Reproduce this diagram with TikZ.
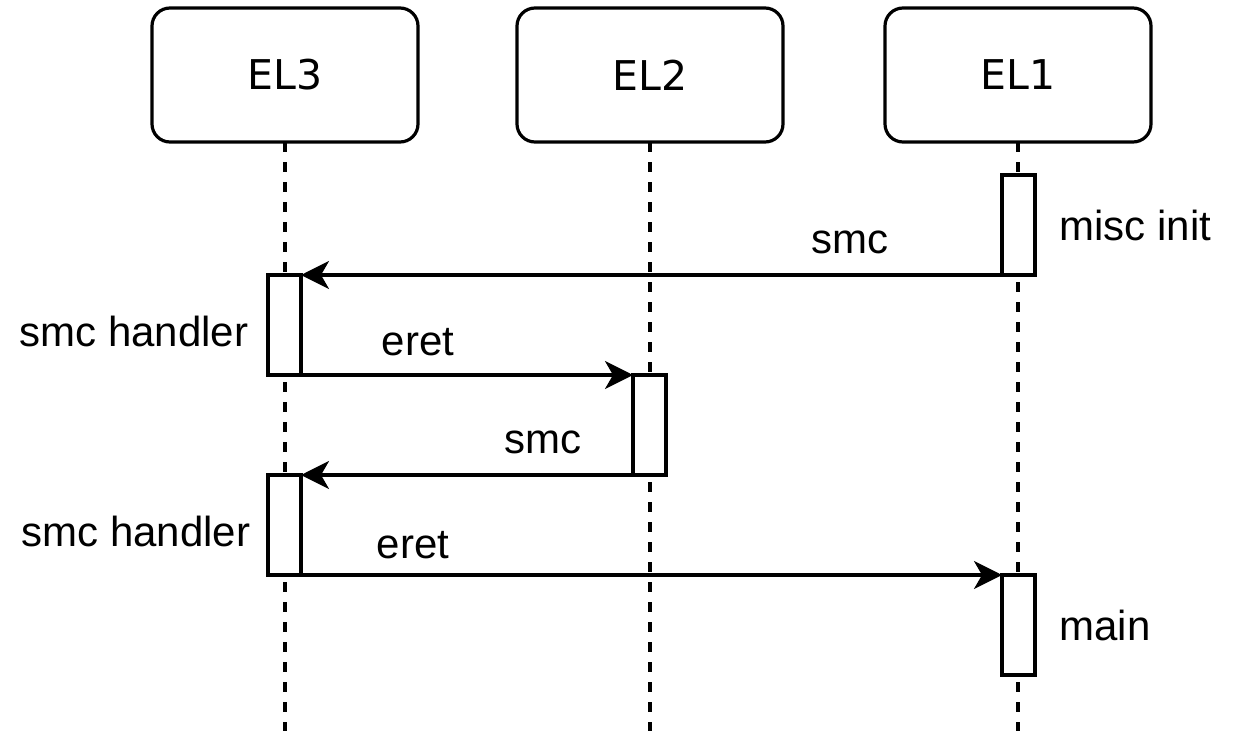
\documentclass[tikz,border=0pt]{standalone}
\usepackage{fontspec}
\setmainfont{Liberation Sans}
\newfontfamily\headfont{DejaVu Sans}
\usetikzlibrary{arrows.meta}
\begin{document}
\begin{tikzpicture}[x=1pt,y=-1pt,
  line width=3.2pt,
  actor/.style={draw, rounded corners=18pt, minimum width=266pt, minimum height=134pt,
    font=\headfont\fontsize{41}{48}\selectfont, inner sep=0pt, outer sep=0pt},
  life/.style={dash pattern=on 10pt off 10pt},
  act/.style={draw, fill=white, minimum width=33pt, minimum height=100pt,
    inner sep=0pt, outer sep=0pt},
  msg/.style={-{Stealth[length=28pt,width=28pt,inset=8pt]}},
  lbl/.style={font=\fontsize{42}{50}\selectfont, inner sep=0pt}]
\useasboundingbox (0,0) rectangle (1240,731);

% participants
\node[actor] (el3) at (285,75) {EL3};
\node[actor] (el2) at (650,75) {EL2};
\node[actor] (el1) at (1018,75) {EL1};

% lifelines
\coordinate (e3) at (285,731);
\coordinate (e2) at (650,731);
\coordinate (e1) at (1018,731);
\draw[life] (el3.south) -- (e3);
\draw[life] (el2.south) -- (e2);
\draw[life] (el1.south) -- (e1);

% activations
\node[act] (a1) at (1018.5,225) {};
\node[act] (a2) at (284.5,325) {};
\node[act] (a3) at (649.5,425) {};
\node[act] (a4) at (284.5,525) {};
\node[act] (a5) at (1018.5,625) {};

% messages
\draw[msg] (a1.south west) -- (a2.north east);
\draw[msg] (a2.south east) -- (a3.north west);
\draw[msg] (a3.south west) -- (a4.north east);
\draw[msg] (a4.south east) -- (a5.north west);

% labels
\node[lbl] (l1) at (850,242) {smc};
\node[lbl] (l2) at (418,342) {eret};
\node[lbl] (l3) at (543,442) {smc};
\node[lbl] (l4) at (413,545) {eret};
\node[lbl, anchor=west] (n1) at (1058,225) {misc init};
\node[lbl, anchor=east] (n2) at (250,331) {smc handler};
\node[lbl, anchor=east] (n3) at (252,531) {smc handler};
\node[lbl, anchor=west] (n4) at (1058,625) {main};
\end{tikzpicture}
\end{document}
